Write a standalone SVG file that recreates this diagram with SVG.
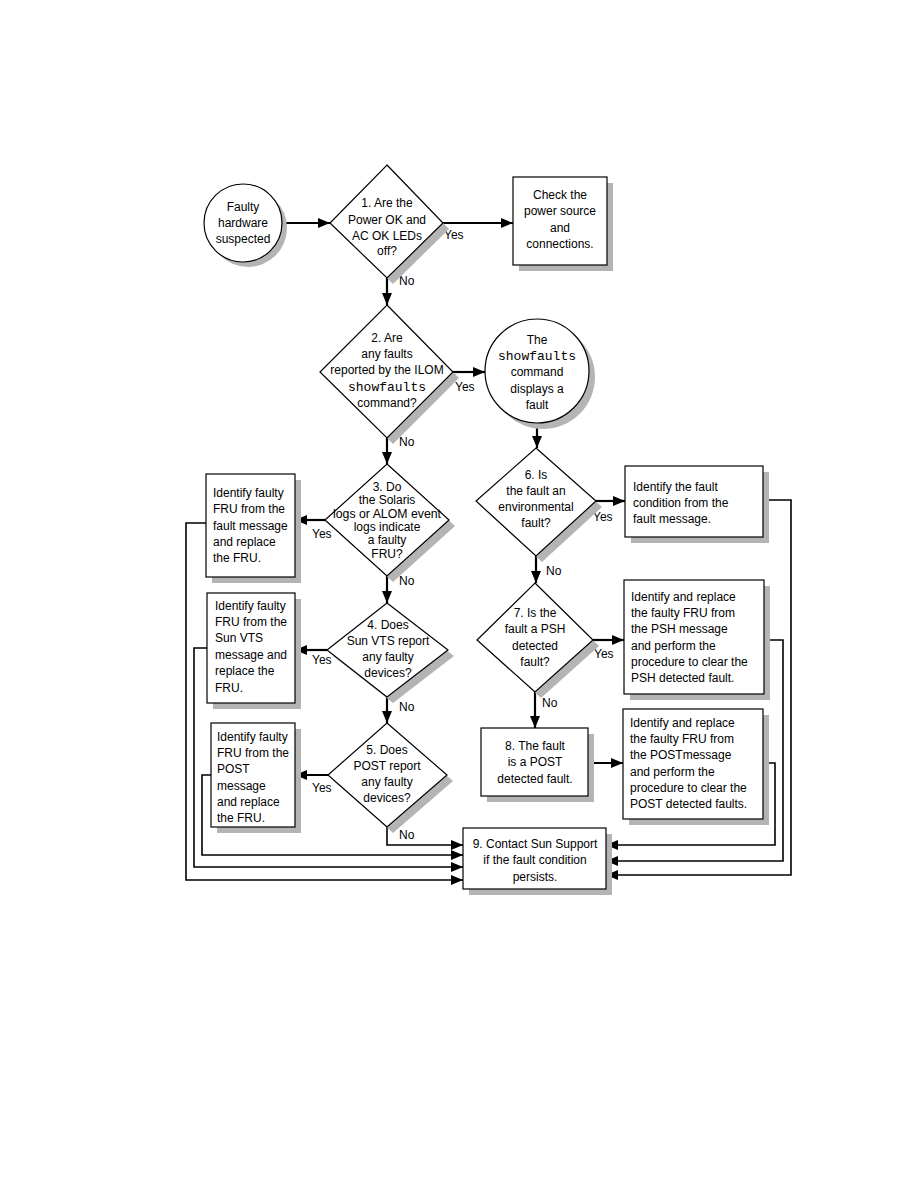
<svg xmlns="http://www.w3.org/2000/svg" width="918" height="1188" viewBox="0 0 918 1188">
<style>
.sh{fill:#b4b4b4;stroke:none}
.nd{fill:#fff;stroke:#000;stroke-width:1.2}
.t{font-family:"Liberation Sans",Arial,sans-serif;font-size:12px;fill:#000}
.c{text-anchor:middle}
.m{font-family:"Liberation Mono","Courier New",monospace;font-size:13px}
.ln{fill:none;stroke:#000;stroke-width:1.6}
.lt{fill:none;stroke:#000;stroke-width:2.2}
</style>
<defs>
<marker id="ah" markerUnits="userSpaceOnUse" markerWidth="12" markerHeight="10" refX="12" refY="5" orient="auto">
<path d="M0,0 L12,5 L0,10 z" fill="#000"/>
</marker>
</defs>
<rect width="918" height="1188" fill="#fff"/>

<g id="connectors">
<path class="lt" d="M282,223 H330" marker-end="url(#ah)"/>
<path class="lt" d="M443,223 H513" marker-end="url(#ah)"/>
<path class="lt" d="M387,278 V305" marker-end="url(#ah)"/>
<path class="lt" d="M453,372 H485" marker-end="url(#ah)"/>
<path class="lt" d="M387,438 V464" marker-end="url(#ah)"/>
<path class="lt" d="M537,423 V448" marker-end="url(#ah)"/>
<path class="lt" d="M325,520 H295" marker-end="url(#ah)"/>
<path class="lt" d="M387,576 V603" marker-end="url(#ah)"/>
<path class="lt" d="M327,650 H295" marker-end="url(#ah)"/>
<path class="lt" d="M387,697 V723" marker-end="url(#ah)"/>
<path class="lt" d="M328,775 H295" marker-end="url(#ah)"/>
<path class="ln" d="M387,827 V845 H463" marker-end="url(#ah)"/>
<path class="ln" d="M211,775 H202 V855 H463" marker-end="url(#ah)"/>
<path class="ln" d="M207,648 H194 V867 H463" marker-end="url(#ah)"/>
<path class="ln" d="M206,523 H186 V880 H463" marker-end="url(#ah)"/>
<path class="lt" d="M596,501 H625" marker-end="url(#ah)"/>
<path class="lt" d="M536,556 V583" marker-end="url(#ah)"/>
<path class="lt" d="M593,640 H624" marker-end="url(#ah)"/>
<path class="lt" d="M535,692 V728" marker-end="url(#ah)"/>
<path class="lt" d="M588,763 H623" marker-end="url(#ah)"/>
<path class="ln" d="M763,763 H775 V845 H606" marker-end="url(#ah)"/>
<path class="ln" d="M764,640 H783 V861 H606" marker-end="url(#ah)"/>
<path class="ln" d="M763,500 H791 V875 H606" marker-end="url(#ah)"/>
</g>

<g id="labels" class="t">
<text x="444" y="239">Yes</text>
<text x="399" y="285">No</text>
<text x="455" y="391">Yes</text>
<text x="399" y="446">No</text>
<text x="312" y="538">Yes</text>
<text x="399" y="585">No</text>
<text x="312" y="664">Yes</text>
<text x="399" y="711">No</text>
<text x="312" y="792">Yes</text>
<text x="399" y="839">No</text>
<text x="593" y="521">Yes</text>
<text x="546" y="575">No</text>
<text x="594" y="658">Yes</text>
<text x="542" y="707">No</text>
</g>

<g id="start">
<circle class="sh" cx="248" cy="228" r="39"/>
<circle class="nd" cx="243" cy="223" r="39"/>
<text class="t c" x="243" y="211">Faulty</text>
<text class="t c" x="243" y="227">hardware</text>
<text class="t c" x="243" y="243">suspected</text>
</g>

<g id="q1">
<polygon class="sh" points="393,171 449,229 393,284 336,229"/>
<polygon class="nd" points="387,165 443,223 387,278 330,223"/>
<text class="t c" x="387" y="207">1. Are the</text>
<text class="t c" x="387" y="224">Power OK and</text>
<text class="t c" x="387" y="240">AC OK LEDs</text>
<text class="t c" x="387" y="255">off?</text>
</g>

<g id="power">
<rect class="sh" x="519" y="183" width="94" height="88"/>
<rect class="nd" x="513" y="177" width="94" height="88"/>
<text class="t c" x="560" y="199">Check the</text>
<text class="t c" x="560" y="215">power source</text>
<text class="t c" x="560" y="232">and</text>
<text class="t c" x="560" y="248">connections.</text>
</g>

<g id="q2">
<polygon class="sh" points="393,311 459,378 393,444 326,378"/>
<polygon class="nd" points="387,305 453,372 387,438 320,372"/>
<text class="t c" x="387" y="342">2. Are</text>
<text class="t c" x="387" y="358">any faults</text>
<text class="t c" x="387" y="374">reported by the ILOM</text>
<text class="t c m" x="387" y="391">showfaults</text>
<text class="t c" x="387" y="407">command?</text>
</g>

<g id="showfaults">
<circle class="sh" cx="543" cy="377" r="52"/>
<circle class="nd" cx="537" cy="371" r="52"/>
<text class="t c" x="537" y="344">The</text>
<text class="t c m" x="537" y="360">showfaults</text>
<text class="t c" x="537" y="376">command</text>
<text class="t c" x="537" y="393">displays a</text>
<text class="t c" x="537" y="409">fault</text>
</g>

<g id="q3">
<polygon class="sh" points="393,470 455,526 393,582 331,526"/>
<polygon class="nd" points="387,464 449,520 387,576 325,520"/>
<text class="t c" x="387" y="491">3. Do</text>
<text class="t c" x="387" y="504">the Solaris</text>
<text class="t c" x="387" y="518" textLength="108" lengthAdjust="spacingAndGlyphs">logs or ALOM event</text>
<text class="t c" x="387" y="531">logs indicate</text>
<text class="t c" x="387" y="544">a faulty</text>
<text class="t c" x="387" y="558">FRU?</text>
</g>

<g id="fru1">
<rect class="sh" x="212" y="480" width="89" height="103"/>
<rect class="nd" x="206" y="474" width="89" height="103"/>
<text class="t" x="213" y="497">Identify faulty</text>
<text class="t" x="213" y="513">FRU from the</text>
<text class="t" x="213" y="530">fault message</text>
<text class="t" x="213" y="546">and replace</text>
<text class="t" x="213" y="562">the FRU.</text>
</g>

<g id="q4">
<polygon class="sh" points="393,609 454,656 393,703 333,656"/>
<polygon class="nd" points="387,603 448,650 387,697 327,650"/>
<text class="t c" x="388" y="629">4. Does</text>
<text class="t c" x="388" y="645">Sun VTS report</text>
<text class="t c" x="388" y="661">any faulty</text>
<text class="t c" x="388" y="677">devices?</text>
</g>

<g id="fru2">
<rect class="sh" x="213" y="599" width="88" height="110"/>
<rect class="nd" x="207" y="593" width="88" height="110"/>
<text class="t" x="215" y="610">Identify faulty</text>
<text class="t" x="215" y="626">FRU from the</text>
<text class="t" x="215" y="642">Sun VTS</text>
<text class="t" x="215" y="659">message and</text>
<text class="t" x="215" y="675">replace the</text>
<text class="t" x="215" y="692">FRU.</text>
</g>

<g id="q5">
<polygon class="sh" points="393,729 453,781 393,833 334,781"/>
<polygon class="nd" points="387,723 447,775 387,827 328,775"/>
<text class="t c" x="387" y="754">5. Does</text>
<text class="t c" x="387" y="770">POST report</text>
<text class="t c" x="387" y="786">any faulty</text>
<text class="t c" x="387" y="802">devices?</text>
</g>

<g id="fru3">
<rect class="sh" x="217" y="729" width="84" height="104"/>
<rect class="nd" x="211" y="723" width="84" height="104"/>
<text class="t" x="217" y="741">Identify faulty</text>
<text class="t" x="217" y="757">FRU from the</text>
<text class="t" x="217" y="773">POST</text>
<text class="t" x="217" y="790">message</text>
<text class="t" x="217" y="806">and replace</text>
<text class="t" x="217" y="822">the FRU.</text>
</g>

<g id="q6">
<polygon class="sh" points="542,454 602,507 542,562 482,507"/>
<polygon class="nd" points="536,448 596,501 536,556 476,501"/>
<text class="t c" x="536" y="479">6. Is</text>
<text class="t c" x="536" y="495">the fault an</text>
<text class="t c" x="536" y="511">environmental</text>
<text class="t c" x="536" y="527">fault?</text>
</g>

<g id="envfault">
<rect class="sh" x="631" y="472" width="138" height="71"/>
<rect class="nd" x="625" y="466" width="138" height="71"/>
<text class="t" x="633" y="491">Identify the fault</text>
<text class="t" x="633" y="507">condition from the</text>
<text class="t" x="633" y="523">fault message.</text>
</g>

<g id="q7">
<polygon class="sh" points="541,589 599,646 541,698 483,646"/>
<polygon class="nd" points="535,583 593,640 535,692 477,640"/>
<text class="t c" x="535" y="617">7. Is the</text>
<text class="t c" x="535" y="633">fault a PSH</text>
<text class="t c" x="535" y="650">detected</text>
<text class="t c" x="535" y="666">fault?</text>
</g>

<g id="psh">
<rect class="sh" x="630" y="586" width="140" height="114"/>
<rect class="nd" x="624" y="580" width="140" height="114"/>
<text class="t" x="631" y="601">Identify and replace</text>
<text class="t" x="631" y="617">the faulty FRU from</text>
<text class="t" x="631" y="633">the PSH message</text>
<text class="t" x="631" y="650">and perform the</text>
<text class="t" x="631" y="666">procedure to clear the</text>
<text class="t" x="631" y="682">PSH detected fault.</text>
</g>

<g id="q8">
<rect class="sh" x="487" y="734" width="107" height="68"/>
<rect class="nd" x="481" y="728" width="107" height="68"/>
<text class="t c" x="535" y="750">8. The fault</text>
<text class="t c" x="535" y="766">is a POST</text>
<text class="t c" x="535" y="783">detected fault.</text>
</g>

<g id="post">
<rect class="sh" x="629" y="715" width="140" height="110"/>
<rect class="nd" x="623" y="709" width="140" height="110"/>
<text class="t" x="630" y="727">Identify and replace</text>
<text class="t" x="630" y="743">the faulty FRU from</text>
<text class="t" x="630" y="759">the POSTmessage</text>
<text class="t" x="630" y="776">and perform the</text>
<text class="t" x="630" y="792">procedure to clear the</text>
<text class="t" x="630" y="808">POST detected faults.</text>
</g>

<g id="support">
<rect class="sh" x="469" y="834" width="143" height="61"/>
<rect class="nd" x="463" y="828" width="143" height="61"/>
<text class="t c" x="535" y="848">9. Contact Sun Support</text>
<text class="t c" x="535" y="864">if the fault condition</text>
<text class="t c" x="535" y="881">persists.</text>
</g>
</svg>
